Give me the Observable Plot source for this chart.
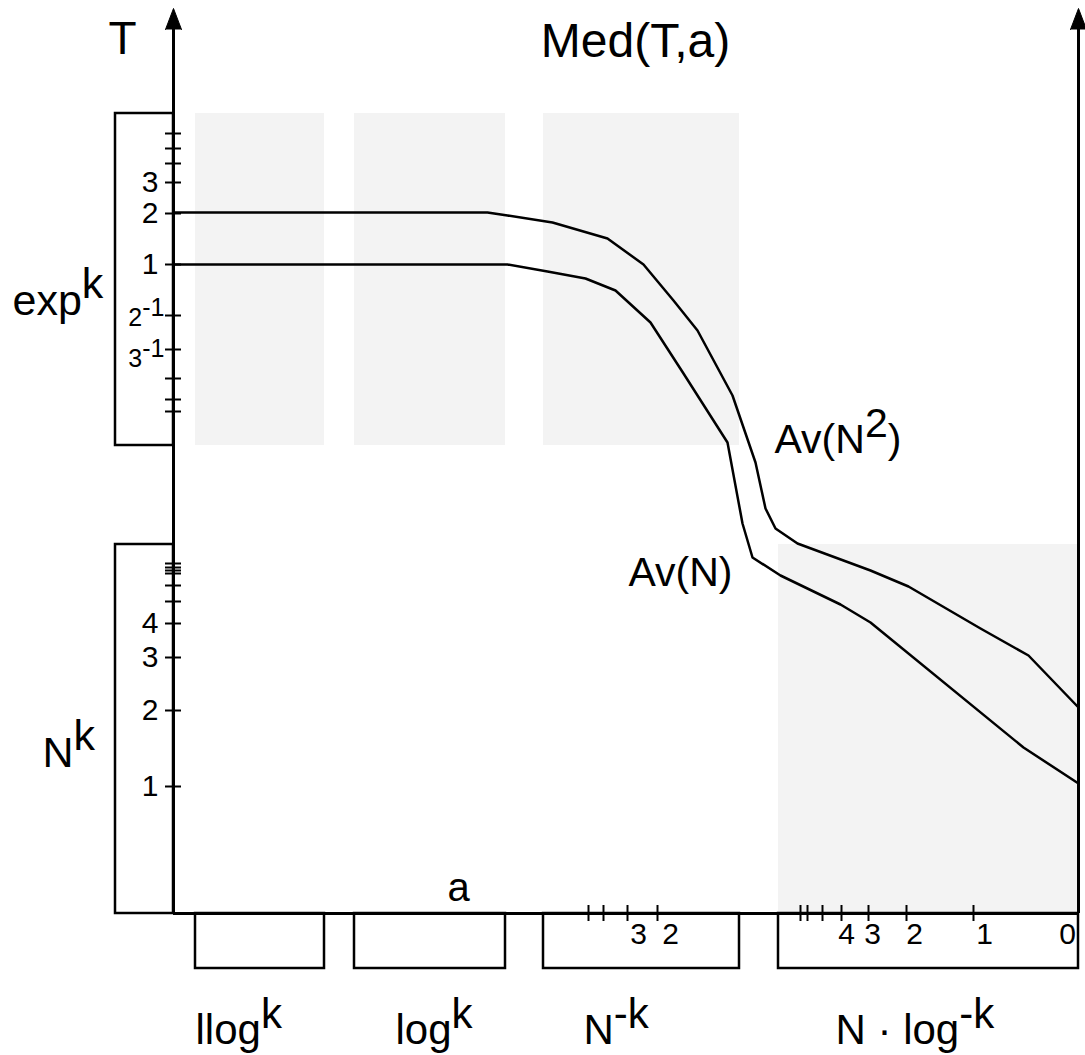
<!DOCTYPE html>
<html>
<head>
<meta charset="utf-8">
<script src="https://cdn.jsdelivr.net/npm/d3@7"></script>
<script src="https://cdn.jsdelivr.net/npm/@observablehq/plot@0.6"></script>
<style>
  html, body { margin: 0; padding: 0; background: #fff; }
  #chart svg { display: block; }
</style>
</head>
<body>
<div id="chart"></div>
<script>
// ---------- data (a = horizontal, T = vertical, schematic units) ----------
const avN2A = [0, 314, 334, 379, 434, 470, 500, 524, 559, 582, 592, 602, 624, 697, 735, 807, 855, 905];
const avN2T = [701, 701, 698, 691, 675, 649, 613, 583, 518, 451, 405, 385, 370, 343, 327, 285, 258, 206];
const avNA  = [0, 334, 374, 412, 442, 477, 510, 554, 569, 579, 607, 667, 697, 850, 905];
const avNT  = [649, 649, 642, 635, 623, 591, 540, 471, 390, 356, 338, 309, 291, 166, 130];

// regimes along a
const regimeNames  = ["llog^{k}", "log^{k}", "N^{-k}", "N · log^{-k}"];
const regimeFrom   = [22, 181, 370, 605];
const regimeTo     = [151, 332, 566, 905];
const regimeLabelA = [22, 222, 410, 662];
const shadeLowT    = [468, 468, 468, 0];
const shadeHighT   = [800, 800, 800, 369];

// scales along T
const scaleNames = ["exp^{k}", "N^{k}"];
const scaleFrom  = [468, 0];
const scaleTo    = [800, 369];
const scaleLabelA = [-161, -131];
const scaleLabelT = [599, 147];

// T-axis ticks
const expTicks   = [780, 765, 750, 731, 700, 649, 598, 564, 535, 514, 502];
const expLabels  = ["3", "2", "1"];
const expLabelT  = [731, 700, 649];
const recipLabels = ["2^{-1}", "3^{-1}"];
const recipLabelT = [588, 547];
const polyTicks  = [350, 346, 343, 340, 328, 312, 290, 256, 203, 127];
const polyLabels = ["4", "3", "2", "1"];
const polyLabelT = [290, 256, 203, 127];

// a-axis ticks
const aTicks     = [415, 430, 454, 484, 627, 634, 649, 668, 695, 733, 800];
const aLabels    = ["3", "2", "4", "3", "2", "1", "0"];
const aLabelA    = [465, 497, 673, 699, 741, 811, 894];

// axes
const axisA = [0, 905];
const axisTopT = 905;

// titles / annotations
const headTexts = ["T", "a", "Av(N^{2})", "Av(N)"];
const headA     = [-65, 274, 601, 455];
const headT     = [860, 13, 461, 328];
const headSize  = [46, 40, 41, 41];
const mainTitle = "Med(T,a)";
const mainTitleA = 462;
const mainTitleT = 857;

// ---------- build ----------
const FONT = "Liberation Sans, Arial, Helvetica, sans-serif";
const idx = (arr) => arr.map((_, i) => i);

const plot = Plot.plot({
  width: 1085,
  height: 1055,
  marginTop: 0, marginRight: 0, marginBottom: 0, marginLeft: 0,
  style: { fontFamily: FONT, background: "#fff", overflow: "visible" },
  x: { domain: [-173, 912], axis: null },
  y: { domain: [-142, 913], axis: null },
  marks: [
    // shaded regime bands
    Plot.rect(idx(regimeNames), {
      x1: i => regimeFrom[i], x2: i => regimeTo[i],
      y1: i => shadeLowT[i], y2: i => shadeHighT[i],
      fill: "#f3f3f3"
    }),
    // regime boxes under the a-axis
    Plot.rect(idx(regimeNames), {
      x1: i => regimeFrom[i], x2: i => regimeTo[i],
      y1: -55, y2: 0,
      fill: "none", stroke: "black", strokeWidth: 2.5
    }),
    // scale boxes left of T-axis
    Plot.rect(idx(scaleNames), {
      x1: -58, x2: 0,
      y1: i => scaleFrom[i], y2: i => scaleTo[i],
      fill: "none", stroke: "black", strokeWidth: 2.5
    }),
    // curves
    Plot.line(idx(avN2A), { x: i => avN2A[i], y: i => avN2T[i], stroke: "black", strokeWidth: 2.5 }),
    Plot.line(idx(avNA),  { x: i => avNA[i],  y: i => avNT[i],  stroke: "black", strokeWidth: 2.5 }),
    // axes
    Plot.ruleY([0], { x1: 0, x2: axisA[1], stroke: "black", strokeWidth: 3 }),
    Plot.ruleX(axisA, { y1: 0, y2: axisTopT - 10, stroke: "black", strokeWidth: 3 }),
    Plot.vector(axisA, {
      x: d => d, y: axisTopT, length: 21, r: 8, shape: "spike", anchor: "end",
      fill: "black", stroke: "black", strokeWidth: 1
    }),
    // T-axis ticks
    Plot.ruleY(expTicks.concat(polyTicks), { x1: -8, x2: 8, stroke: "black", strokeWidth: 2 }),
    // a-axis ticks
    Plot.ruleX(aTicks, { y1: -8, y2: 8, stroke: "black", strokeWidth: 2 }),
    // T tick labels
    Plot.text(idx(expLabels), {
      x: -15, y: i => expLabelT[i], text: i => expLabels[i],
      textAnchor: "end", lineAnchor: "middle", fontSize: 30, fontFamily: FONT, fill: "black"
    }),
    Plot.text(idx(polyLabels), {
      x: -15, y: i => polyLabelT[i], text: i => polyLabels[i],
      textAnchor: "end", lineAnchor: "middle", fontSize: 30, fontFamily: FONT, fill: "black"
    }),
    Plot.text(idx(recipLabels), {
      x: -9, y: i => recipLabelT[i], text: i => recipLabels[i],
      textAnchor: "end", lineAnchor: "bottom", fontSize: 25, fontFamily: FONT, fill: "black"
    }),
    // a tick labels
    Plot.text(idx(aLabels), {
      x: i => aLabelA[i], y: -30, text: i => aLabels[i],
      textAnchor: "middle", lineAnchor: "bottom", fontSize: 30, fontFamily: FONT, fill: "black"
    }),
    // regime names
    Plot.text(idx(regimeNames), {
      x: i => regimeLabelA[i], y: -130, text: i => regimeNames[i],
      textAnchor: "start", lineAnchor: "bottom", fontSize: 42, fontFamily: FONT, fill: "black"
    }),
    // scale names
    Plot.text(idx(scaleNames), {
      x: i => scaleLabelA[i], y: i => scaleLabelT[i], text: i => scaleNames[i],
      textAnchor: "start", lineAnchor: "bottom", fontSize: 43, fontFamily: FONT, fill: "black"
    }),
    // axis names & curve labels
    Plot.text(idx(headTexts), {
      x: i => headA[i], y: i => headT[i], text: i => headTexts[i],
      textAnchor: "start", lineAnchor: "bottom",
      fontSize: i => headSize[i], fontFamily: FONT, fill: "black"
    }),
    // main title
    Plot.text([mainTitle], {
      x: mainTitleA, y: mainTitleT, text: d => d,
      textAnchor: "middle", lineAnchor: "bottom", fontSize: 48, fontFamily: FONT, fill: "black"
    })
  ]
});

// turn "^{...}" markup into raised tspans
const SVGNS = "http://www.w3.org/2000/svg";
plot.querySelectorAll("text").forEach(t => {
  const s = t.textContent;
  if (!s.includes("^{")) return;
  t.textContent = "";
  let raised = false;
  for (const p of s.split(/(\^\{[^}]*\})/)) {
    if (!p) continue;
    const ts = document.createElementNS(SVGNS, "tspan");
    if (p.startsWith("^{")) {
      ts.textContent = p.slice(2, -1);
      ts.setAttribute("dy", "-0.38em");
      raised = true;
    } else {
      ts.textContent = p;
      if (raised) { ts.setAttribute("dy", "0.38em"); raised = false; }
    }
    t.appendChild(ts);
  }
});

document.getElementById("chart").appendChild(plot);
</script>
</body>
</html>
